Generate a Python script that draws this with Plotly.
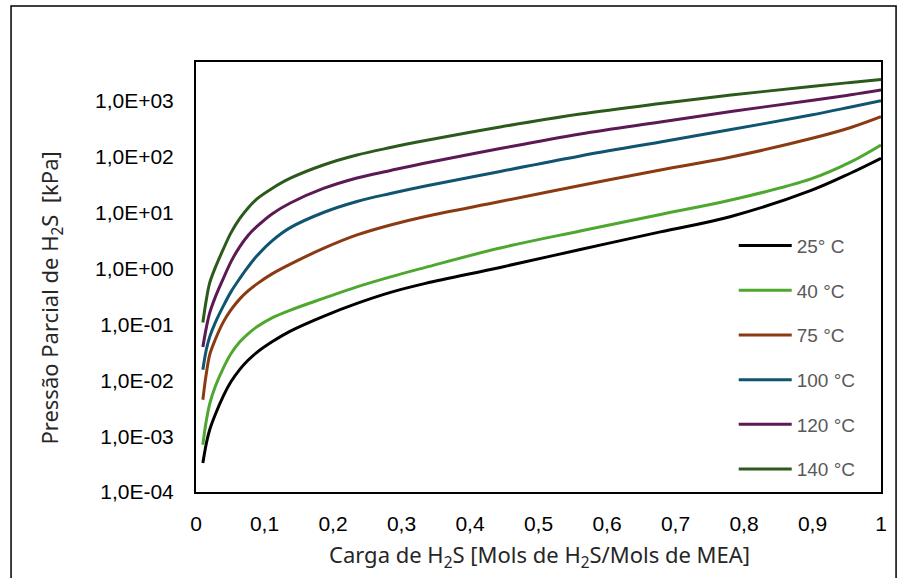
import plotly.graph_objects as go

# Loading of H2S (mol H2S / mol MEA)
carga = [0.01, 0.015, 0.02, 0.028, 0.04, 0.051, 0.064, 0.076, 0.089, 0.111,
         0.137, 0.186, 0.235, 0.284, 0.335, 0.444, 0.561, 0.678, 0.781, 0.898,
         0.956, 1.0]

# Partial pressure of H2S [kPa]
p_25 = [0.000330, 0.000731, 0.00130, 0.00242, 0.00528, 0.00940, 0.0157, 0.0228, 0.0317, 0.0489,
        0.0753, 0.140, 0.238, 0.375, 0.543, 1.05, 2.20, 4.54, 8.59, 25.1,
        51.5, 94.4]
p_40 = [0.000702, 0.00188, 0.00380, 0.00766, 0.0167, 0.0298, 0.0489, 0.0679, 0.0906, 0.131,
        0.179, 0.293, 0.471, 0.711, 1.05, 2.34, 4.72, 9.33, 16.9, 40.3,
        81.1, 163]
p_75 = [0.00448, 0.0131, 0.0286, 0.0531, 0.111, 0.182, 0.287, 0.399, 0.532, 0.804,
        1.19, 2.30, 4.01, 6.05, 8.59, 15.9, 30.8, 58.3, 99.6, 213,
        336, 524]
p_100 = [0.0154, 0.0352, 0.0600, 0.107, 0.215, 0.383, 0.668, 1.07, 1.69, 3.13,
         5.35, 10.1, 15.9, 22.1, 30.1, 54.8, 104, 185, 309, 562,
         782, 1012]
p_120 = [0.0393, 0.0869, 0.161, 0.305, 0.668, 1.32, 2.48, 3.93, 5.69, 9.53,
         14.8, 27.2, 42.0, 57.1, 77.8, 141, 257, 421, 649, 1021,
         1291, 1574]
p_140 = [0.108, 0.275, 0.555, 1.03, 2.25, 4.36, 7.91, 12.2, 17.7, 27.2,
         41.1, 71.6, 108, 147, 196, 343, 585, 902, 1279, 1816,
         2153, 2443]

series_names = ["25° C", "40 °C", "75 °C", "100 °C", "120 °C", "140 °C"]
series_values = [p_25, p_40, p_75, p_100, p_120, p_140]
series_colors = ["#000000", "#4EA72E", "#8B3A12", "#0F5470", "#5C1A55", "#2B5A1C"]

y_tickvals = [1e-4, 1e-3, 1e-2, 1e-1, 1e0, 1e1, 1e2, 1e3]
y_ticktext = ["1,0E-04", "1,0E-03", "1,0E-02", "1,0E-01", "1,0E+00", "1,0E+01", "1,0E+02", "1,0E+03"]
x_tickvals = [0, 0.1, 0.2, 0.3, 0.4, 0.5, 0.6, 0.7, 0.8, 0.9, 1.0]
x_ticktext = ["0", "0,1", "0,2", "0,3", "0,4", "0,5", "0,6", "0,7", "0,8", "0,9", "1"]

fig = go.Figure()
for i, (name, vals, col) in enumerate(zip(series_names, series_values, series_colors)):
    fig.add_trace(go.Scatter(
        x=carga, y=vals, name=name, mode="lines",
        line=dict(color=col, width=3, shape="spline", smoothing=1.0),
        legendgroup=f"g{i}",
    ))

tick_font = dict(family="Liberation Sans, Arial, sans-serif", size=21, color="#000000")

fig.update_layout(
    width=907, height=578,
    margin=dict(l=196, r=26, t=62, b=86),
    paper_bgcolor="white", plot_bgcolor="white",
    showlegend=True,
    legend=dict(
        x=0.785, y=0.617, xanchor="left", yanchor="top",
        font=dict(family="Liberation Sans, Arial, sans-serif", size=19, color="#595959"),
        bgcolor="rgba(0,0,0,0)", tracegroupgap=17,
        traceorder="grouped", itemwidth=53,
    ),
    xaxis=dict(
        range=[0, 1], tickvals=x_tickvals, ticktext=x_ticktext,
        showgrid=False, zeroline=False,
        showline=True, linecolor="#000000", linewidth=2, mirror=True,
        ticks="", tickfont=tick_font, ticklabelstandoff=12,
    ),
    yaxis=dict(
        type="log", range=[-4, 3.699], tickvals=y_tickvals, ticktext=y_ticktext,
        showgrid=False, zeroline=False,
        showline=True, linecolor="#000000", linewidth=2, mirror=True,
        ticks="", tickfont=tick_font, ticklabelstandoff=16,
    ),
    annotations=[
        dict(text="Carga de H<sub>2</sub>S [Mols de H<sub>2</sub>S/Mols de MEA]",
             xref="paper", yref="paper", x=0.502, y=-0.148,
             xanchor="center", yanchor="middle", showarrow=False,
             font=dict(family="Noto Sans, sans-serif", size=22, color="#262626")),
        dict(text="Pressão Parcial de H<sub>2</sub>S  [kPa]",
             xref="paper", yref="paper", x=-0.211, y=0.451, textangle=-90,
             xanchor="center", yanchor="middle", showarrow=False,
             font=dict(family="Noto Sans, sans-serif", size=22, color="#262626")),
    ],
    shapes=[
        dict(type="rect", xref="paper", yref="paper",
             x0=-0.270, x1=1.022, y0=-0.25, y1=1.130,
             line=dict(color="#000000", width=1.5), fillcolor="rgba(0,0,0,0)", layer="below"),
    ],
)

fig.write_html("out.html")
